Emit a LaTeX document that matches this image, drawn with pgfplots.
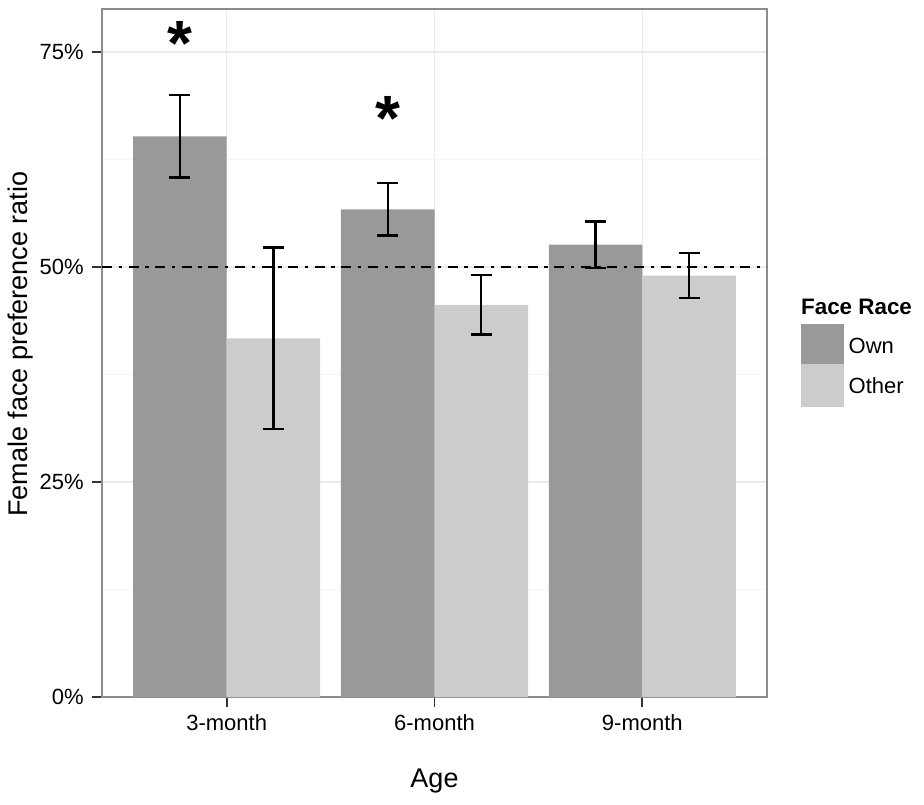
\documentclass[border=0pt]{standalone}
\usepackage{pgfplots}
\pgfplotsset{compat=1.18}
\usepackage{pgfplotstable}
\usepackage{fontspec}
\setmainfont{Liberation Sans}
\definecolor{own}{HTML}{999999}
\definecolor{other}{HTML}{CCCCCC}
\definecolor{gridmaj}{HTML}{EBEBEB}
\definecolor{gridmin}{HTML}{F5F5F5}
\definecolor{border}{HTML}{8C8C8C}
\definecolor{tickc}{HTML}{333333}

\pgfplotstableread{
x y err
1 65.2 4.8
2 56.7 3.05
3 52.6 2.7
}\owntab
\pgfplotstableread{
x y err
1 41.7 10.55
2 45.6 3.45
3 49.0 2.6
}\othertab

\begin{document}
\begin{tikzpicture}
\useasboundingbox (-51pt,-53.5pt) rectangle (411pt,348.5pt);
\begin{axis}[
  at={(0,0)}, anchor=south west,
  scale only axis, width=332.5pt, height=344pt,
  xmin=0.4, xmax=3.6, ymin=0, ymax=80,
  xtick={1,2,3}, xticklabels={3-month,6-month,9-month},
  ytick={0,25,50,75}, yticklabels={0\%,25\%,50\%,75\%},
  minor ytick={12.5,37.5,62.5},
  xtick pos=bottom, ytick pos=left,
  tick align=outside, major tick length=5pt,
  tick style={tickc, line width=0.9pt},
  minor tick length=0pt,
  xmajorgrids, ymajorgrids, yminorgrids,
  major grid style={gridmaj, line width=0.7pt},
  minor grid style={gridmin, line width=0.7pt},
  axis line style={border, line width=0.8pt},
  ticklabel style={font=\fontsize{11}{13}\selectfont, text=black},
  yticklabel style={anchor=east, inner sep=0pt, xshift=-4pt},
  xticklabel style={anchor=north, inner sep=0pt, yshift=-3.5pt},
  xlabel={Age}, ylabel={Female face preference ratio},
  label style={font=\fontsize{13.5}{15}\selectfont},
  xlabel style={at={(axis description cs:0.5,-0.1228)}, anchor=center},
  ylabel style={at={(axis description cs:-0.1218,0.513)}, anchor=center},
  ybar, bar width=0.45,
  clip=false,
]
\addplot[fill=own, draw=none, bar shift=-0.225,
  error bars/.cd, y dir=both, y explicit,
  error bar style={black, line width=1.2pt},
  error mark options={rotate=90, black, line width=1.2pt, mark size=5.25pt}]
  table[x=x, y=y, y error=err] {\owntab};
\addplot[fill=other, draw=none, bar shift=0.225,
  error bars/.cd, y dir=both, y explicit,
  error bar style={black, line width=1.2pt},
  error mark options={rotate=90, black, line width=1.2pt, mark size=5.25pt}]
  table[x=x, y=y, y error=err] {\othertab};
\draw[black, line width=1.3pt, dash pattern=on 5pt off 3.3pt on 1.7pt off 3.3pt]
  (axis cs:0.4,50) -- (axis cs:3.6,50);
\node[anchor=base, inner sep=0pt, font=\bfseries\fontsize{32}{34}\selectfont] at (axis cs:0.775,73.4) {*};
\node[anchor=base, inner sep=0pt, font=\bfseries\fontsize{32}{34}\selectfont] at (axis cs:1.775,64.7) {*};
% legend
\fill[own] (rel axis cs:1.0507,0.4836) rectangle (rel axis cs:1.1158,0.5417);
\fill[other] (rel axis cs:1.0507,0.4211) rectangle (rel axis cs:1.1158,0.4836);
\node[anchor=west, inner sep=0pt, font=\bfseries\fontsize{11.2}{13}\selectfont] at (rel axis cs:1.0507,0.5673) {Face Race};
\node[anchor=west, inner sep=0pt, font=\fontsize{11}{13}\selectfont] at (rel axis cs:1.1222,0.5102) {Own};
\node[anchor=west, inner sep=0pt, font=\fontsize{11}{13}\selectfont] at (rel axis cs:1.1222,0.452) {Other};
\end{axis}
\end{tikzpicture}
\end{document}
